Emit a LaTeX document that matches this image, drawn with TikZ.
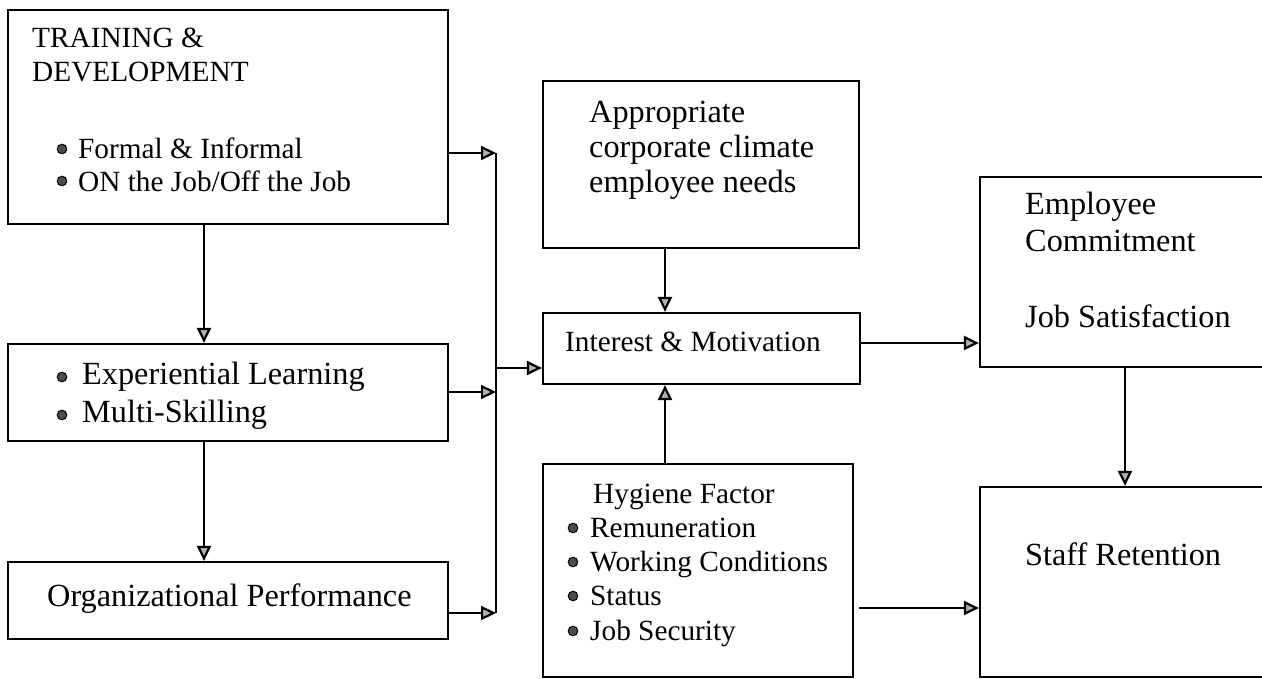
\documentclass[tikz,border=0pt]{standalone}
\usepackage{fontspec}
\setmainfont{Liberation Serif}
\usetikzlibrary{arrows.meta}
\newcommand\BigTxt{\fontsize{32.3}{37}\selectfont}
\newcommand\SmallTxt{\fontsize{29.3}{34}\selectfont}
\tikzset{
  box/.style={draw, line width=2.2pt, inner sep=0pt, rectangle},
  lbl/.style={anchor=base west, inner sep=0pt, font=\BigTxt},
  slbl/.style={anchor=base west, inner sep=0pt, font=\SmallTxt},
  ln/.style={line width=2.2pt},
  arr/.style={line width=2.2pt, -{Triangle[length=15pt,width=14pt,fill=gray!60]}},
  bul/.style={fill=black!70, draw=black, line width=1pt}
}
\begin{document}
\begin{tikzpicture}[x=1pt,y=-1pt]
\useasboundingbox (0,0) rectangle (1262,679);
\clip (0,0) rectangle (1262,679);
\fill[white] (0,0) rectangle (1262,679);

% boxes
\node[box, minimum width=440pt, minimum height=214pt] (td) at (228,117) {};
\node[box, minimum width=440pt, minimum height=97pt] (exp) at (228,392.5) {};
\node[box, minimum width=440pt, minimum height=77pt] (org) at (228,600.5) {};
\node[box, minimum width=316pt, minimum height=167pt] (app) at (701,164.5) {};
\node[box, minimum width=317pt, minimum height=71pt] (int) at (701.5,348.5) {};
\node[box, minimum width=310pt, minimum height=213pt] (hyg) at (698,570.5) {};
\node[box, minimum width=300pt, minimum height=190pt] (emp) at (1130,272) {};
\node[box, minimum width=300pt, minimum height=190pt] (staff) at (1130,582) {};

% texts
\node[slbl] (t1) at (32,48) {TRAINING \&};
\node[slbl] (t2) at (32,82) {DEVELOPMENT};
\node[slbl] (t3) at (78,159) {Formal \& Informal};
\node[slbl] (t4) at (78,192) {ON the Job/Off the Job};
\fill[bul] (62,149) circle (4.8);
\fill[bul] (62,181) circle (4.8);

\node[lbl] (e1) at (82,384) {Experiential Learning};
\node[lbl] (e2) at (82,422) {Multi-Skilling};
\fill[bul] (62,377) circle (4.8);
\fill[bul] (62,415) circle (4.8);

\node[lbl] (o1) at (47,606) {Organizational Performance};

\node[lbl] (a1) at (589,123) {Appropriate};
\node[lbl] (a2) at (589,158) {corporate climate};
\node[lbl] (a3) at (589,193) {employee needs};

\node[slbl] (i1) at (565,352) {Interest \& Motivation};

\node[slbl] (h0) at (593,503) {Hygiene Factor};
\node[slbl] (h1) at (590,537) {Remuneration};
\node[slbl] (h2) at (590,571) {Working Conditions};
\node[slbl] (h3) at (590,605) {Status};
\node[slbl] (h4) at (590,640) {Job Security};
\fill[bul] (573,528) circle (4.8);
\fill[bul] (573,562) circle (4.8);
\fill[bul] (573,596) circle (4.8);
\fill[bul] (573,631) circle (4.8);

\node[lbl] (m1) at (1025,215) {Employee};
\node[lbl] (m2) at (1025,252) {Commitment};
\node[lbl] (m3) at (1025,327) {Job Satisfaction};

\node[lbl] (s1) at (1025,565) {Staff Retention};

% connectors
\coordinate (j1) at (496,153);
\coordinate (j2) at (496,392);
\coordinate (j3) at (496,613);
\coordinate (j0) at (496,368);
\draw[ln] (j1) -- (j3);
\draw[arr] (td.east |- j1) -- (j1);
\draw[arr] (exp.east |- j2) -- (j2);
\draw[arr] (org.east |- j3) -- (j3);
\draw[arr] (j0) -- (int.west |- j0);

\draw[arr] (td.south -| 204,0) -- (exp.north -| 204,0);
\draw[arr] (exp.south -| 204,0) -- (org.north -| 204,0);
\draw[arr] (app.south -| 665,0) -- (int.north -| 665,0);
\draw[arr] (hyg.north -| 665,0) -- (int.south -| 665,0);
\draw[arr] (int.east |- 0,343) -- (emp.west |- 0,343);
\draw[arr] (emp.south -| 1125,0) -- (staff.north -| 1125,0);
\draw[arr, shorten <=5pt] (hyg.east |- 0,608) -- (staff.west |- 0,608);
\end{tikzpicture}
\end{document}
